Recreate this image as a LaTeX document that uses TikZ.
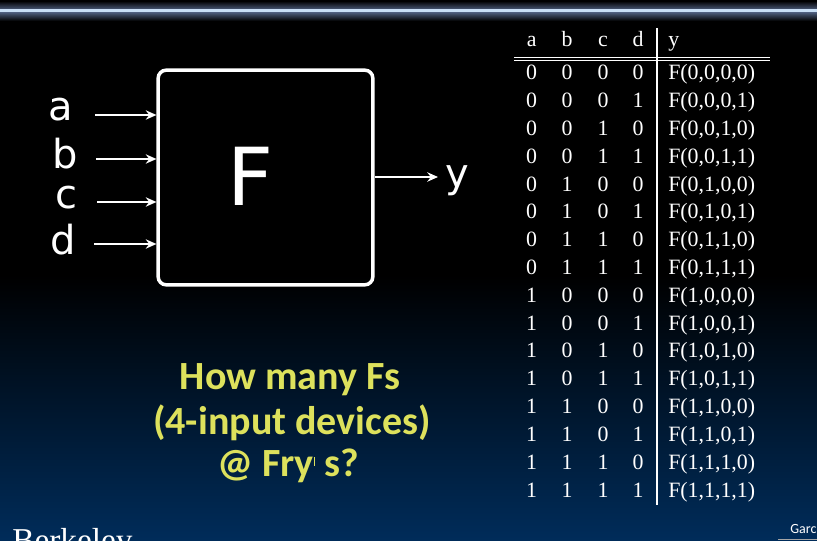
\documentclass[tikz,border=0pt]{standalone}
\usepackage{fontspec}
\setmainfont{Liberation Serif}
\newfontfamily\handfont{DejaVu Sans}
\newfontfamily\calfont{Carlito}
\usetikzlibrary{arrows.meta}
\definecolor{botblue}{RGB}{0,44,90}
\definecolor{bandblue}{RGB}{80,96,128}
\definecolor{bandline}{RGB}{200,222,245}
\definecolor{qyellow}{RGB}{221,225,92}
\tikzset{
  hand/.style={text=white,font=\handfont\fontsize{30}{30}\selectfont,inner sep=0pt},
  wire/.style={draw=white,line width=2pt,-{Stealth[length=8pt,width=7pt]}},
  cell/.style={text=white,font=\fontsize{16.4}{18}\selectfont,inner sep=0pt},
  qtext/.style={text=qyellow,font=\calfont\bfseries\fontsize{30}{32}\selectfont,inner sep=0pt},
}
\begin{document}
\begin{tikzpicture}[x=0.75pt,y=-0.75pt]
\useasboundingbox (0,0) rectangle (817,541);
\fill[black] (0,0) rectangle (817,541);
\shade[top color=black,bottom color=botblue] (0,275) rectangle (817,541);
% top banner
\shade[top color=black,bottom color=bandblue] (0,1) rectangle (817,10);
\shade[top color=bandblue,bottom color=black] (0,12) rectangle (817,21);
\fill[bandline] (0,9.5) rectangle (817,12.5);
% box
\node[draw=white,line width=2.6pt,rounded corners=6pt,minimum width=161pt,minimum height=161pt,inner sep=0pt] (box) at (265.5,177.5) {};
\node[text=white,font=\handfont\fontsize{60}{60}\selectfont,inner sep=0pt] (F) at (251,176) {F};
% inputs
\node[hand] (la) at (61,110) {a};
\node[hand] (lb) at (65,154) {b};
\node[hand] (lc) at (66,198) {c};
\node[hand] (ld) at (63,240) {d};
\coordinate (sa) at (95,115);
\coordinate (sb) at (96,159);
\coordinate (sc) at (97,202);
\coordinate (sd) at (94,244);
\draw[wire] (sa) -- (sa -| box.west);
\draw[wire] (sb) -- (sb -| box.west);
\draw[wire] (sc) -- (sc -| box.west);
\draw[wire] (sd) -- (sd -| box.west);
% output
\coordinate (oy) at (438,177);
\draw[wire] (box.east |- oy) -- (oy);
\node[hand] (ly) at (457,181) {y};
% table
\coordinate (vt) at (657,28);
\coordinate (vb) at (657,505);
\draw[white,line width=0.8pt] (vt) -- (vb);
\coordinate (h1l) at (514,57.2);
\coordinate (h1r) at (770,57.2);
\coordinate (h2l) at (514,60.6);
\coordinate (h2r) at (770,60.6);
\draw[white,line width=0.8pt] (h1l) -- (h1r);
\draw[white,line width=0.8pt] (h2l) -- (h2r);
\node[cell,anchor=base] (ha) at (531.7,47) {a};
\node[cell,anchor=base] (hb) at (567,47) {b};
\node[cell,anchor=base] (hc) at (603,47) {c};
\node[cell,anchor=base] (hd) at (638,47) {d};
\node[cell,anchor=base west] (hy) at (668,47) {y};
\foreach \i in {0,...,15} {
  \pgfmathtruncatemacro{\ba}{div(\i,8)}
  \pgfmathtruncatemacro{\bb}{mod(div(\i,4),2)}
  \pgfmathtruncatemacro{\bc}{mod(div(\i,2),2)}
  \pgfmathtruncatemacro{\bd}{mod(\i,2)}
  \pgfmathsetmacro{\yy}{80+27.8*\i}
  \node[cell,anchor=base] (ra\i) at (531.7,\yy) {\ba};
  \node[cell,anchor=base] (rb\i) at (567,\yy) {\bb};
  \node[cell,anchor=base] (rc\i) at (603,\yy) {\bc};
  \node[cell,anchor=base] (rd\i) at (638,\yy) {\bd};
  \node[cell,anchor=base west] (ry\i) at (668,\yy) {F(\ba,\bb,\bc,\bd)};
}
% question
\node[qtext] (q1) at (290,380) {How many Fs};
\node[qtext] (q2) at (292,423) {(4-input devices)};
\node[qtext] (q3) at (288,466) {@ Fry\kern0.5pt\raisebox{8pt}{\rule{0.7pt}{7pt}} s?};
% footer
\begin{scope}
\clip (0,0) rectangle (817,541);
\node[text=white,font=\fontsize{25}{26}\selectfont,inner sep=0pt,anchor=base west] (berk) at (12,551) {Berkeley};
\node[text=white,font=\calfont\fontsize{10.5}{12}\selectfont,inner sep=0pt,anchor=base west] (garc) at (790,533) {Garc};
\coordinate (gl) at (778,539.5);
\coordinate (gr) at (817,539.5);
\draw[gray!70,line width=0.6pt] (gl) -- (gr);
\end{scope}
\end{tikzpicture}
\end{document}
